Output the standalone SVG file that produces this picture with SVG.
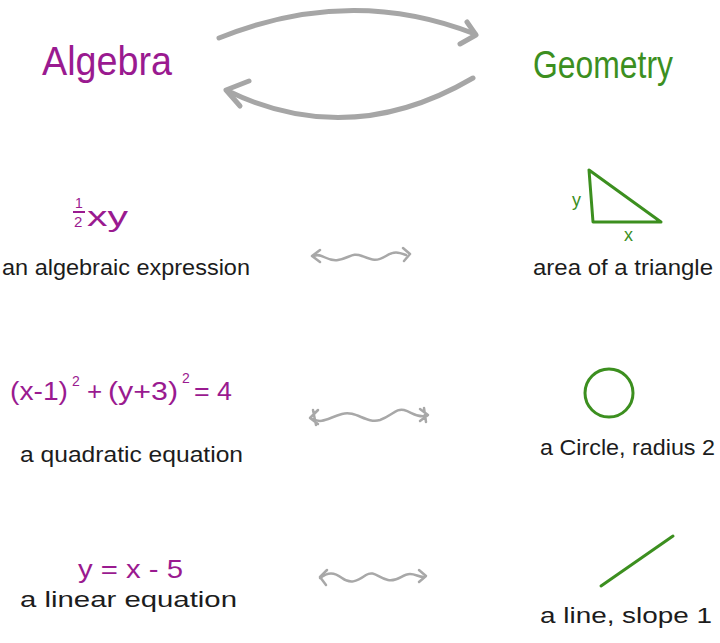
<svg xmlns="http://www.w3.org/2000/svg" width="720" height="643" viewBox="0 0 720 643">
<style>
.t{font-family:"Liberation Sans","DejaVu Sans",sans-serif;fill:#1c1c1c;font-size:22px}
.p{font-family:"Liberation Sans","DejaVu Sans",sans-serif;fill:#9a1a90}
.g{font-family:"Liberation Sans","DejaVu Sans",sans-serif;fill:#3c8f1f}
.arc{fill:none;stroke:#a6a6a6;stroke-width:5;stroke-linecap:round;stroke-linejoin:round}
.wav{fill:none;stroke:#a8a8a8;stroke-width:2.5;stroke-linecap:round;stroke-linejoin:round}
.gs{fill:none;stroke:#3c8f1f;stroke-width:3;stroke-linecap:round;stroke-linejoin:round}
</style>
<rect width="720" height="643" fill="#ffffff"/>
<g id="connectors">
<path class="arc" d="M219,38 Q350,-15 475,34"/>
<path class="arc" d="M467,22 L476,35 L460,44"/>
<path class="arc" d="M473,78 Q350,150 228,91"/>
<path class="arc" d="M249,81 L226,90 L240,106"/>
<path class="wav" d="M314,256 C322,252 326,262 338,260 C350,258 352,252 362,256 C372,260 376,262 386,256 C394,251 398,252 406,255"/>
<path class="wav" d="M320,250 L312,256 L320,262 M403,248 L410,254 L404,261"/>
<path class="wav" d="M313,419 C322,424 328,418 342,414 C356,410 366,424 380,420 C392,416 396,408 404,410 C412,412 416,418 426,416"/>
<path class="wav" d="M318,410 L310,418 L318,424 M313,410 L316,425 M420,409 L428,415 L420,421 M424,408 L426,422"/>
<path class="wav" d="M320,578 C328,572 334,572 342,578 C350,584 356,582 366,575 C374,570 378,578 388,580 C398,582 402,574 410,574 C416,574 418,577 424,577"/>
<path class="wav" d="M327,570 L320,577 L326,585 M419,570 L426,576 L419,582"/>
</g>
<g id="algebra-title"><text class="p" x="42" y="75" font-size="40" textLength="130" lengthAdjust="spacingAndGlyphs">Algebra</text></g>
<g id="geometry-title"><text class="g" x="533" y="78" font-size="38" textLength="140" lengthAdjust="spacingAndGlyphs">Geometry</text></g>
<g id="alg1">
<text class="p" x="75" y="208" font-size="14">1</text>
<line x1="73" y1="212" x2="85" y2="212" stroke="#9a1a90" stroke-width="2"/>
<text class="p" x="74" y="227" font-size="15">2</text>
<text class="p" x="87" y="226" font-size="28" textLength="41" lengthAdjust="spacingAndGlyphs">xy</text>
<text class="t" x="2" y="275" textLength="248" lengthAdjust="spacingAndGlyphs">an algebraic expression</text>
</g>
<g id="geo1">
<path class="gs" d="M589,170 L593,222 L661,222 Z"/>
<text class="g" x="572" y="206" font-size="18">y</text>
<text class="g" x="624" y="241" font-size="18">x</text>
<text class="t" x="533" y="275" textLength="180" lengthAdjust="spacingAndGlyphs">area of a triangle</text>
</g>
<g id="alg2">
<text class="p" x="10" y="400" font-size="26" textLength="58" lengthAdjust="spacingAndGlyphs">(x-1)</text>
<text class="p" x="72" y="386" font-size="14">2</text>
<text class="p" x="87" y="400" font-size="26">+</text>
<text class="p" x="108" y="400" font-size="26" textLength="70" lengthAdjust="spacingAndGlyphs">(y+3)</text>
<text class="p" x="182" y="383" font-size="14">2</text>
<text class="p" x="194" y="400" font-size="26" textLength="38" lengthAdjust="spacingAndGlyphs">= 4</text>
<text class="t" x="20" y="462" textLength="223" lengthAdjust="spacingAndGlyphs">a quadratic equation</text>
</g>
<g id="geo2">
<circle class="gs" cx="609" cy="393" r="24"/>
<text class="t" x="540" y="455" textLength="175" lengthAdjust="spacingAndGlyphs">a Circle, radius 2</text>
</g>
<g id="alg3">
<text class="p" x="78" y="578" font-size="26" textLength="105" lengthAdjust="spacingAndGlyphs">y = x - 5</text>
<text class="t" x="20" y="607" textLength="217" lengthAdjust="spacingAndGlyphs">a linear equation</text>
</g>
<g id="geo3">
<line class="gs" x1="601" y1="586" x2="673" y2="536"/>
<text class="t" x="540" y="623" textLength="172" lengthAdjust="spacingAndGlyphs">a line, slope 1</text>
</g>
</svg>
